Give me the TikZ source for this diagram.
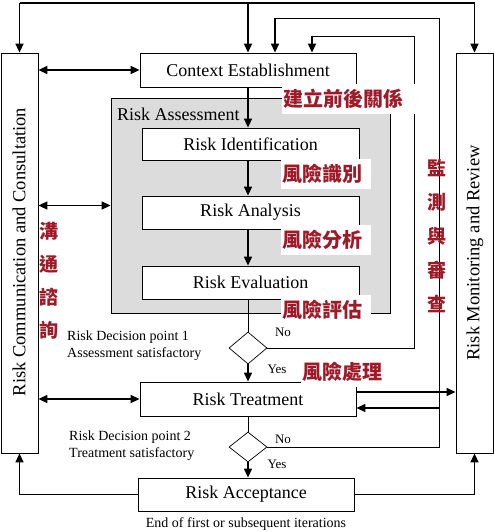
\documentclass[tikz,border=0pt]{standalone}
\usepackage{fontspec}
\setmainfont{Liberation Serif}
\newfontfamily\cjk{Noto Sans CJK TC}
\usetikzlibrary{arrows.meta,shapes.geometric}
\definecolor{riskred}{HTML}{9E1A28}
\definecolor{riskgray}{HTML}{DCDCDC}
\tikzset{
  stagebox/.style={draw, line width=0.8pt, fill=white, minimum width=216pt, minimum height=34pt, inner sep=0pt, font=\fontsize{18}{20}\selectfont},
  sidebox/.style={draw, line width=0.8pt, minimum width=37pt, minimum height=400pt, inner sep=0pt},
  sidetext/.style={rotate=90, font=\fontsize{18.5}{20}\selectfont, inner sep=0pt},
  decision/.style={draw, diamond, line width=0.7pt, minimum width=38pt, minimum height=32pt, inner sep=0pt},
  flow/.style={line width=1.5pt, -{Triangle[length=9pt,width=8pt]}},
  flowboth/.style={line width=1.5pt, {Triangle[length=9pt,width=8pt]}-{Triangle[length=9pt,width=8pt]}},
  loopline/.style={line width=0.9pt},
  note/.style={font=\fontsize{14}{17}\selectfont, align=left, inner sep=0pt},
  answer/.style={font=\fontsize{13}{15}\selectfont, inner sep=0pt},
  cjklabel/.style={fill=white, text=riskred, font=\cjk\bfseries\fontsize{20}{24}\selectfont, inner xsep=1pt, inner ysep=5pt, anchor=west, align=left},
  cjkcolumn/.style={text=riskred, align=center, inner sep=0pt},
}
\begin{document}
\begin{tikzpicture}[x=1pt,y=-1pt]
\useasboundingbox (0,0) rectangle (494,532);

% side columns
\node[sidebox] (comm) at (19.5,253) {};
\node[sidebox] (mon) at (474.5,253) {};
\coordinate (topL) at (comm.north |- 0,3);
\coordinate (topR) at (mon.north |- 0,3);

% assessment block
\node[draw, fill=riskgray, line width=0.8pt, minimum width=279pt, minimum height=215pt] (ra) at (250.5,205.5) {};
\node[anchor=west, inner sep=0pt, font=\fontsize{18}{20}\selectfont] (ratext) at (117,114) {Risk Assessment};

% process steps
\node[stagebox] (ctx) at (248,70) {Context Establishment};
\node[stagebox, minimum width=217pt, minimum height=32pt] (rid) at (250.5,144) {Risk Identification};
\node[stagebox, minimum width=217pt, minimum height=33pt] (ran) at (250.5,212.5) {Risk Analysis};
\node[stagebox, minimum width=217pt, minimum height=33pt] (rev) at (250.5,282.5) {Risk Evaluation};
\node[decision] (d1) at (248,348) {};
\node[stagebox] (rt) at (248,399) {Risk Treatment};
\node[decision, minimum height=30pt] (d2) at (248,447) {};
\node[stagebox, minimum height=33pt] (racc) at (246,494.5) {Risk Acceptance};

% top feed
\draw[line width=1.3pt] (topL) -- (topR);
\draw[flow] (topL) -- (comm.north);
\draw[flow] (ctx.north |- topL) -- (ctx.north);
\draw[flow] (topR) -- (mon.north);

% main chain
\draw[flow] (ctx.south) -- (ctx.south |- rid.north);
\draw[flow] (rid.south -| ctx) -- (ctx |- ran.north);
\draw[flow] (ran.south -| ctx) -- (ctx |- rev.north);
\draw[loopline] (rev.south -| d1) -- (d1.north);
\draw[flow] (d1.south) -- (d1.south |- rt.north);
\draw[loopline] (rt.south -| d2) -- (d2.north);
\draw[flow] (d2.south) -- (d2.south |- racc.north);

% communication links
\draw[flowboth] (comm.east |- ctx) -- (ctx.west);
\draw[flowboth] (comm.east |- ra) -- (ra.west);
\draw[flowboth] (comm.east |- rt) -- (rt.west);

% feedback loops
\coordinate (loop1) at (414,36);
\coordinate (drop1) at (312,36);
\coordinate (loop2) at (439,18);
\coordinate (drop2) at (275,18);
\draw[loopline] (d1.east) -| (loop1) -- (drop1);
\draw[flow] (drop1) -- (drop1 |- ctx.north);
\draw[loopline] (d2.east) -| (loop2) -- (drop2);
\draw[flow] (drop2) -- (drop2 |- ctx.north);
\coordinate (rtout) at ([yshift=7pt]rt.east);
\coordinate (rtin) at ([yshift=-9pt]rt.east);
\draw[flow] (rtout) -- (rtout -| mon.west);
\draw[flow] (rtin -| loop2) -- (rtin);

% acceptance back to columns
\draw[flow] (racc.west) -| (comm.south);
\draw[flow] (racc.east) -| (mon.south);

% notes
\node[note, anchor=west] (q1) at (67,345.5) {Risk Decision point 1\\Assessment satisfactory};
\node[answer] (no1) at (283,332) {No};
\node[answer] (yes1) at (277,369) {Yes};
\node[note, anchor=west] (q2) at (69,445.5) {Risk Decision point 2\\Treatment satisfactory};
\node[answer] (no2) at (283,439) {No};
\node[answer] (yes2) at (277,464) {Yes};
\node[note] (endnote) at (246,524) {End of first or subsequent iterations};

% column titles
\node[sidetext] (commtext) at (19,252) {Risk Communication and Consultation};
\node[sidetext] (montext) at (475,253) {Risk Monitoring and Review};

% chinese labels
\node[cjklabel, text width=132pt] (cjkctx) at (282,99) {建立前後關係};
\node[cjklabel, text width=88pt] (cjkrid) at (281,174) {風險識別};
\node[cjklabel, text width=88pt] (cjkran) at (281,240) {風險分析};
\node[cjklabel, text width=88pt] (cjkrev) at (281,310) {風險評估};
\node[cjklabel] (cjkrt) at (301,372) {風險處理};
\node[cjkcolumn, font=\cjk\bfseries\fontsize{19}{33}\selectfont] (cjkcomm) at (49,281) {溝\\通\\諮\\詢};
\node[cjkcolumn, font=\cjk\bfseries\fontsize{19}{34}\selectfont] (cjkmon) at (437,236) {監\\測\\與\\審\\查};
\end{tikzpicture}
\end{document}
